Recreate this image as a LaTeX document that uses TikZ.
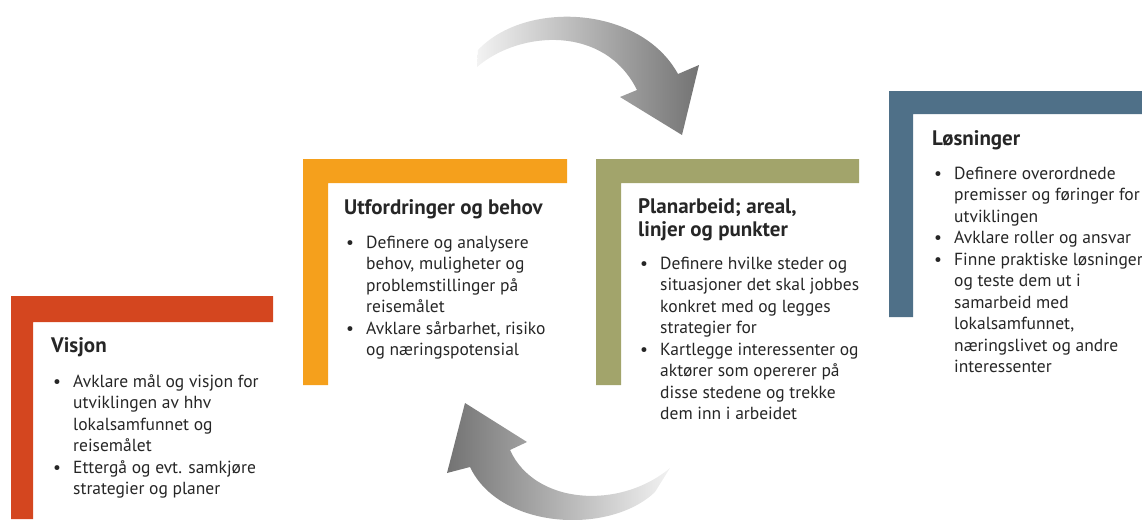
\documentclass[tikz,border=0pt]{standalone}
\usepackage{fontspec}
\setmainfont{PT Sans}
\usepackage{tikz}
\definecolor{visjonred}{HTML}{D4461F}
\definecolor{behovorange}{HTML}{F5A01C}
\definecolor{planolive}{HTML}{A2A46B}
\definecolor{losningblue}{HTML}{4F7088}
\newcommand{\itemdot}{\makebox[20pt][l]{\textbullet}}
\newcommand{\itemgap}{\hspace*{20pt}}
\tikzset{
  heading/.style={anchor=base west, inner sep=0pt, align=left,
    font=\fontsize{21}{22.5}\selectfont\bfseries, text=black!85},
  bodytext/.style={anchor=base west, inner sep=0pt, align=left,
    font=\fontsize{17.5}{21.5}\selectfont, text=black!85},
}

\begin{document}
\begin{tikzpicture}[x=1pt,y=-1pt]
			\useasboundingbox (0,0) rectangle (1142,519);
			% vinkler
			\fill[visjonred] (11,296) -- (273,296) -- (273,322) -- (33,322) -- (33,519) -- (11,519) -- cycle;
			\fill[behovorange] (303,159) -- (567,159) -- (567,183) -- (328,183) -- (328,385) -- (303,385) -- cycle;
			\fill[planolive] (596,159) -- (859,159) -- (859,183) -- (621,183) -- (621,385) -- (596,385) -- cycle;
			\fill[losningblue] (889,91) -- (1142,91) -- (1142,114) -- (913,114) -- (913,317) -- (889,317) -- cycle;
			% piler
			\shade[left color=black!5, middle color=black!42, right color=black!55]
				(478,50) .. controls (525,0) and (640,5) .. (678,74) -- (699,65) -- (682,135) -- (620,97) -- (637,90)
				.. controls (605,25) and (520,30) .. (477,67) -- cycle;
			\shade[left color=black!55, middle color=black!42, right color=black!5]
				(465,403) -- (527,442) -- (510,450) .. controls (535,505) and (620,510) .. (670,468) -- (655,492)
				.. controls (610,535) and (500,530) .. (470,467) -- (447,473) -- cycle;
			% tekst (base = siste linje)
			\node[heading] (visjon) at (51,352) {Visjon};
			\node[bodytext] (visjonlist) at (53,494.5) {\itemdot Avklare mål og visjon for\\ \itemgap utviklingen av hhv\\ \itemgap lokalsamfunnet og\\ \itemgap reisemålet\\ \itemdot Ettergå og evt. samkjøre\\ \itemgap strategier og planer};
			\node[heading] (behov) at (344,214) {Utfordringer og behov};
			\node[bodytext] (behovlist) at (346,355.5) {\itemdot Definere og analysere\\ \itemgap behov, muligheter og\\ \itemgap problemstillinger på\\ \itemgap reisemålet\\ \itemdot Avklare sårbarhet, risiko\\ \itemgap og næringspotensial};
			\node[heading] (plan) at (638,236) {Planarbeid; areal,\\ linjer og punkter};
			\node[bodytext] (planlist) at (640,419.5) {\itemdot Definere hvilke steder og\\ \itemgap situasjoner det skal jobbes\\ \itemgap konkret med og legges\\ \itemgap strategier for\\ \itemdot Kartlegge interessenter og\\ \itemgap aktører som opererer på\\ \itemgap disse stedene og trekke\\ \itemgap dem inn i arbeidet};
			\node[heading] (losning) at (932,145) {Løsninger};
			\node[bodytext] (losninglist) at (934,372.5) {\itemdot Definere overordnede\\ \itemgap premisser og føringer for\\ \itemgap utviklingen\\ \itemdot Avklare roller og ansvar\\ \itemdot Finne praktiske løsninger\\ \itemgap og teste dem ut i\\ \itemgap samarbeid med\\ \itemgap lokalsamfunnet,\\ \itemgap næringslivet og andre\\ \itemgap interessenter};
		\end{tikzpicture}
\end{document}
